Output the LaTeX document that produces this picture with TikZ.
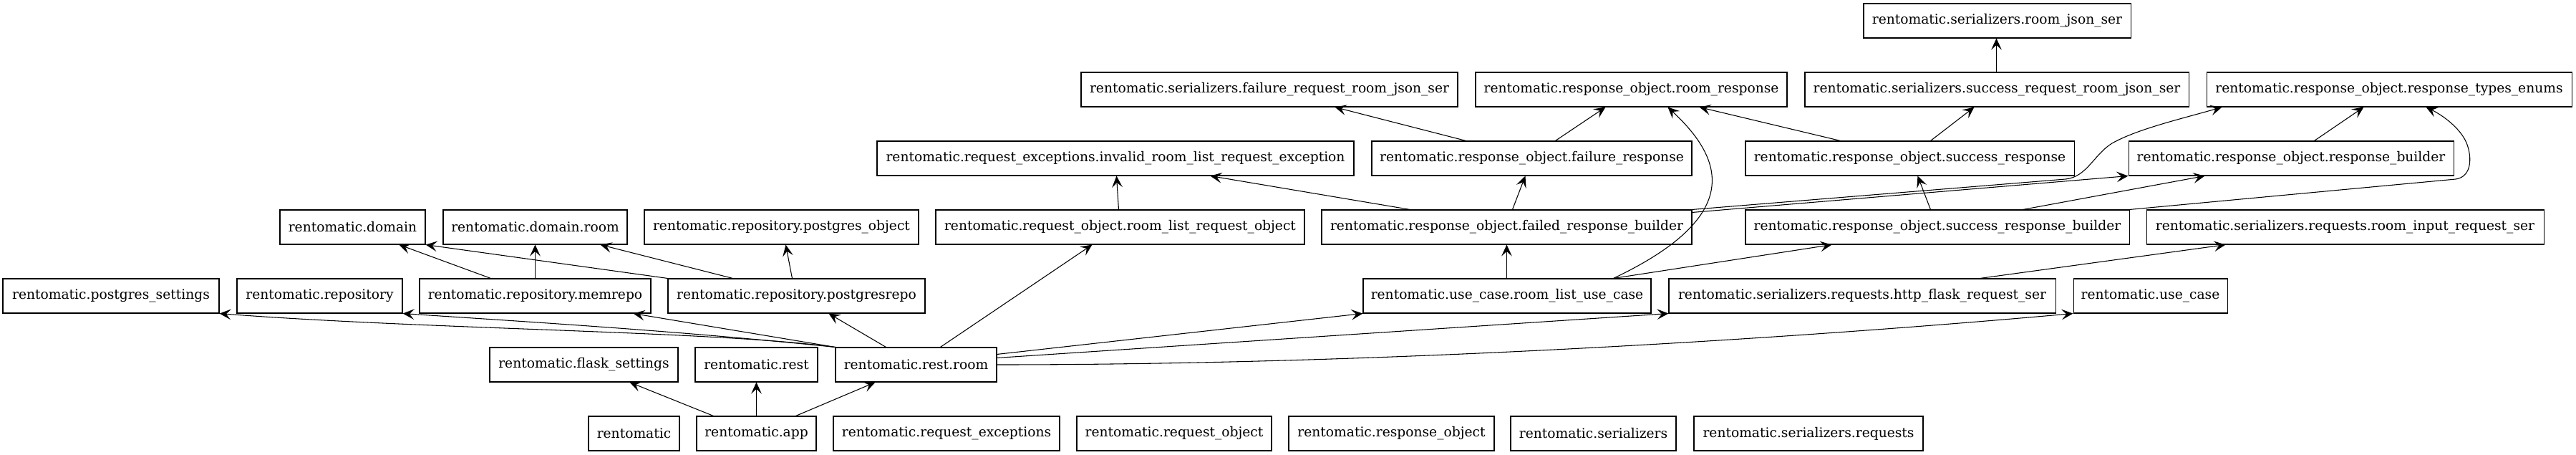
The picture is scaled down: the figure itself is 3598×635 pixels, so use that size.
\documentclass[tikz,border=0pt]{standalone}
\usepackage{fontspec}
\setmainfont{DejaVu Serif}
\usetikzlibrary{arrows.meta,calc}
\tikzset{
  pkgbox/.style={draw, line width=0.8pt, inner sep=0pt, minimum height=36pt, font=\fontsize{14}{16}\selectfont},
  dep/.style={-{Stealth[length=12pt,width=11pt,inset=5pt]}, line width=0.8pt},
}
\newcommand\modbox[5]{\node[pkgbox, minimum width={(#3-#2)*0.75pt}] (#1) at ({(#2+#3)/2},#4) {#5};}
\begin{document}
\begin{tikzpicture}[x=0.75pt,y=-0.75pt]
\fill[white] (0,0) rectangle (3598,635);
\useasboundingbox (0,0) rectangle (3598,635);
% rank 0
\modbox{rjs}{2603}{2976}{29}{rentomatic.serializers.room\_json\_ser}
% rank 1
\modbox{frj}{1510}{2036}{125}{rentomatic.serializers.failure\_request\_room\_json\_ser}
\modbox{rresp}{2061}{2496}{125}{rentomatic.response\_object.room\_response}
\modbox{srj}{2521}{3057}{125}{rentomatic.serializers.success\_request\_room\_json\_ser}
\modbox{rte}{3082}{3592}{125}{rentomatic.response\_object.response\_types\_enums}
% rank 2
\modbox{inv}{1225}{1891}{221}{rentomatic.request\_exceptions.invalid\_room\_list\_request\_exception}
\modbox{fresp}{1916}{2363}{221}{rentomatic.response\_object.failure\_response}
\modbox{sresp}{2438}{2897}{221}{rentomatic.response\_object.success\_response}
\modbox{rb}{2973}{3427}{221}{rentomatic.response\_object.response\_builder}
% rank 3
\modbox{dom}{391}{594}{317}{rentomatic.domain}
\modbox{domr}{619}{876}{317}{rentomatic.domain.room}
\modbox{pgo}{900}{1283}{317}{rentomatic.repository.postgres\_object}
\modbox{rlro}{1307}{1822}{317}{rentomatic.request\_object.room\_list\_request\_object}
\modbox{frb}{1846}{2363}{317}{rentomatic.response\_object.failed\_response\_builder}
\modbox{srb}{2438}{2974}{317}{rentomatic.response\_object.success\_response\_builder}
\modbox{rirs}{2998}{3553}{317}{rentomatic.serializers.requests.room\_input\_request\_ser}
% rank 4
\modbox{pgs}{4}{306}{413}{rentomatic.postgres\_settings}
\modbox{repo}{331}{562}{413}{rentomatic.repository}
\modbox{mem}{586}{909}{413}{rentomatic.repository.memrepo}
\modbox{pgr}{933}{1292}{413}{rentomatic.repository.postgresrepo}
\modbox{rluc}{1904}{2306}{413}{rentomatic.use\_case.room\_list\_use\_case}
\modbox{hfrs}{2331}{2871}{413}{rentomatic.serializers.requests.http\_flask\_request\_ser}
\modbox{uc}{2896}{3111}{413}{rentomatic.use\_case}
% rank 5
\modbox{fs}{684}{947}{509}{rentomatic.flask\_settings}
\modbox{rest}{971}{1142}{509}{rentomatic.rest}
\modbox{rr}{1167}{1392}{509}{rentomatic.rest.room}
% rank 6
\modbox{rent}{822}{949}{605}{rentomatic}
\modbox{app}{973}{1140}{605}{rentomatic.app}
\modbox{rex}{1164}{1480}{605}{rentomatic.request\_exceptions}
\modbox{ro}{1504}{1776}{605}{rentomatic.request\_object}
\modbox{rso}{1800}{2087}{605}{rentomatic.response\_object}
\modbox{ser}{2110}{2341}{605}{rentomatic.serializers}
\modbox{serq}{2366}{2686}{605}{rentomatic.serializers.requests}
% edges
\draw[dep] ($(app.north west)+(24,0)$) -- ($(fs.south west)+(196,0)$);
\draw[dep] ($(app.north west)+(84,0)$) -- ($(rest.south west)+(86,0)$);
\draw[dep] ($(app.north west)+(139,0)$) -- ($(rr.south west)+(56,0)$);
\draw[dep] (rr.north west) .. controls (1000,462) and (600,460) .. (pgs.south east);
\draw[dep] (rr.north west) .. controls (950,462) and (750,450) .. (repo.south east);
\draw[dep] (rr.north west) -- ($(mem.south east)+(-25,0)$);
\draw[dep] ($(rr.north west)+(71,0)$) -- ($(pgr.south west)+(225,0)$);
\draw[dep] ($(rr.north west)+(147,0)$) -- ($(rlro.south west)+(219,0)$);
\draw[dep] ($(rr.north east)+(0,10)$) -- (rluc.south west);
\draw[dep] ($(rr.north east)+(0,15)$) -- (hfrs.south west);
\draw[dep] (rr.east) .. controls (2000,509) and (2600,464) .. (uc.south west);
\draw[dep] ($(mem.north west)+(100,0)$) -- ($(dom.south west)+(167,0)$);
\draw[dep] ($(mem.north west)+(162,0)$) -- ($(domr.south west)+(129,0)$);
\draw[dep] (pgr.north west) -- (dom.south east);
\draw[dep] ($(pgr.north west)+(91,0)$) -- ($(domr.south west)+(220,0)$);
\draw[dep] ($(pgr.north west)+(174,0)$) -- ($(pgo.south west)+(198,0)$);
\draw[dep] ($(rluc.north west)+(201,0)$) -- ($(frb.south west)+(259,0)$);
\draw[dep] ($(rluc.north west)+(350,0)$) -- ($(srb.south west)+(121,0)$);
\draw[dep] ($(rluc.north west)+(350,0)$) .. controls (2440,300) and (2405,220) .. ($(rresp.south west)+(269,0)$);
\draw[dep] ($(hfrs.north west)+(435,0)$) -- ($(rirs.south west)+(111,0)$);
\draw[dep] ($(rlro.north west)+(256,0)$) -- ($(inv.south west)+(335,0)$);
\draw[dep] ($(frb.north west)+(124,0)$) -- ($(inv.south west)+(466,0)$);
\draw[dep] ($(frb.north west)+(267,0)$) -- ($(fresp.south west)+(215,0)$);
\draw[dep] ($(frb.north east)+(0,4)$) -- (rb.south west);
\draw[dep] (frb.north east) -- (2885,250) .. controls (2915,247) and (2925,215) .. (2950,200) .. controls (2985,180) and (3050,165) .. ($(rte.south west)+(22,0)$);
\draw[dep] ($(srb.north west)+(259,0)$) -- ($(sresp.south west)+(241,0)$);
\draw[dep] ($(srb.north west)+(388,0)$) -- ($(rb.south west)+(107,0)$);
\draw[dep] (srb.north east) -- (3430,250) .. controls (3450,247) and (3453,225) .. (3447,205) .. controls (3440,180) and (3410,160) .. ($(rte.south west)+(307,0)$);
\draw[dep] ($(fresp.north west)+(132,0)$) -- ($(frj.south west)+(355,0)$);
\draw[dep] ($(fresp.north west)+(257,0)$) -- ($(rresp.south west)+(182,0)$);
\draw[dep] ($(sresp.north west)+(133,0)$) -- ($(rresp.south west)+(313,0)$);
\draw[dep] ($(sresp.north west)+(259,0)$) -- ($(srj.south west)+(237,0)$);
\draw[dep] ($(srj.north west)+(268,0)$) -- ($(rjs.south west)+(186,0)$);
\draw[dep] ($(rb.north west)+(260,0)$) -- ($(rte.south west)+(220,0)$);
\end{tikzpicture}
\end{document}
